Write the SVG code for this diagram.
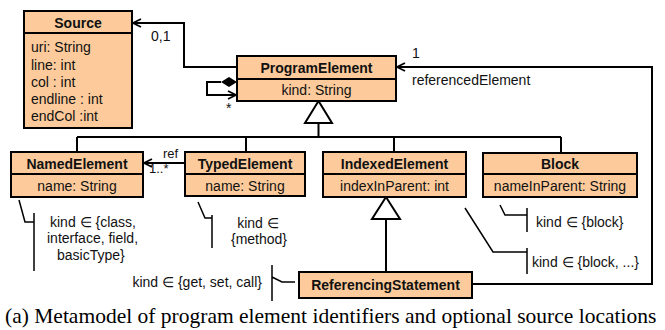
<svg xmlns="http://www.w3.org/2000/svg" width="665" height="330" viewBox="0 0 665 330">
<defs>
<style>
.box{fill:#FDCB9B;stroke:#000;stroke-width:2}
.div{stroke:#000;stroke-width:2}
.t{font-family:"Liberation Sans",Arial,sans-serif;font-size:14px;fill:#111}
.b{font-weight:bold;text-anchor:middle}
.m{text-anchor:middle}
.s{font-size:13px}
.con{fill:none;stroke:#000;stroke-width:2}
.note{fill:none;stroke:#000;stroke-width:1.5}
.cap{font-family:"Liberation Serif","Times New Roman",serif;font-size:21.5px;fill:#000}
</style>
<marker id="open" viewBox="0 0 10 10" refX="9" refY="5" markerWidth="10" markerHeight="10" markerUnits="userSpaceOnUse" orient="auto">
<path d="M1,1 L9,5 L1,9" fill="none" stroke="#000" stroke-width="1.8"/>
</marker>
</defs>
<rect width="665" height="330" fill="#fff"/>

<g id="connectors">
<path class="con" d="M237,67 H184 V23 H133" marker-end="url(#open)"/>
<polygon points="237,82 229,77 221,82 229,87" fill="#000"/>
<path class="con" d="M221,82 H207 V95 H236" marker-end="url(#open)"/>
<polygon points="318.5,101 305,123 332,123" fill="#fff" stroke="#000" stroke-width="2"/>
<path class="con" d="M318.5,123 V137 M77,137 H561 M77,137 V151 M246,137 V152 M394,137 V152 M561,137 V152"/>
<path class="con" d="M185,163 H144" marker-end="url(#open)"/>
<polygon points="386,197 372,219 400,219" fill="#fff" stroke="#000" stroke-width="2"/>
<path class="con" d="M386,219 V272"/>
<path class="con" d="M472,284 H652 V67 H397" marker-end="url(#open)"/>
<text class="t" x="151" y="41">0,1</text>
<text class="t" x="226" y="113">*</text>
<text class="t" x="412" y="58">1</text>
<text class="t" x="412" y="85">referencedElement</text>
<text class="t s" x="163" y="158">ref</text>
<text class="t s" x="149" y="173">1..*</text>
</g>

<g id="Source">
<rect class="box" x="24" y="11" width="108" height="117"/>
<line class="div" x1="24" y1="33" x2="132" y2="33"/>
<text class="t b" x="78" y="28">Source</text>
<text class="t" x="31" y="52">uri: String</text>
<text class="t" x="31" y="69.5">line: int</text>
<text class="t" x="31" y="87">col : int</text>
<text class="t" x="31" y="104">endline : int</text>
<text class="t" x="31" y="121">endCol :int</text>
</g>

<g id="ProgramElement">
<rect class="box" x="237" y="56" width="159" height="45"/>
<line class="div" x1="237" y1="79" x2="396" y2="79"/>
<text class="t b" x="316.5" y="73">ProgramElement</text>
<text class="t m" x="316.5" y="95">kind: String</text>
</g>

<g id="NamedElement">
<rect class="box" x="11" y="152" width="132" height="45"/>
<line class="div" x1="11" y1="174" x2="143" y2="174"/>
<text class="t b" x="77" y="169">NamedElement</text>
<text class="t m" x="77" y="191">name: String</text>
</g>

<g id="TypedElement">
<rect class="box" x="185" y="152" width="120" height="44"/>
<line class="div" x1="185" y1="174" x2="305" y2="174"/>
<text class="t b" x="245" y="169">TypedElement</text>
<text class="t m" x="245" y="191">name: String</text>
</g>

<g id="IndexedElement">
<rect class="box" x="323" y="152" width="143" height="45"/>
<line class="div" x1="323" y1="174" x2="466" y2="174"/>
<text class="t b" x="394.5" y="169">IndexedElement</text>
<text class="t m" x="394.5" y="191">indexInParent: int</text>
</g>

<g id="Block">
<rect class="box" x="483" y="153" width="154" height="44"/>
<line class="div" x1="483" y1="174" x2="637" y2="174"/>
<text class="t b" x="560" y="169">Block</text>
<text class="t m" x="560" y="191">nameInParent: String</text>
</g>

<g id="ReferencingStatement">
<rect class="box" x="299" y="272" width="173" height="26"/>
<text class="t b" x="385.5" y="290">ReferencingStatement</text>
</g>

<g id="note-named">
<path class="note" d="M19,200 L25,222 H34 M34,213 V271"/>
<text class="t" x="50" y="227">kind ∈ {class,</text>
<text class="t" x="47" y="243">interface, field,</text>
<text class="t" x="57" y="260">basicType}</text>
</g>

<g id="note-typed">
<path class="note" d="M198,202 L205,218 H212 M212,215 V248"/>
<text class="t m" x="258" y="228">kind ∈</text>
<text class="t m" x="259" y="244">{method}</text>
</g>

<g id="note-block">
<path class="note" d="M500,205 L505,215 H527 M527,208 V232"/>
<text class="t" x="536" y="227">kind ∈ {block}</text>
</g>

<g id="note-indexed">
<path class="note" d="M465,208 L493,252 H527 M527,248 V274"/>
<text class="t" x="532" y="267">kind ∈ {block, ...}</text>
</g>

<g id="note-referencing">
<path class="note" d="M272,265 V301 M272,277 L282,282 H295"/>
<text class="t" x="262" y="287" text-anchor="end">kind ∈ {get, set, call}</text>
</g>

<text class="cap" x="5" y="323">(a) Metamodel of program element identifiers and optional source locations</text>
</svg>
